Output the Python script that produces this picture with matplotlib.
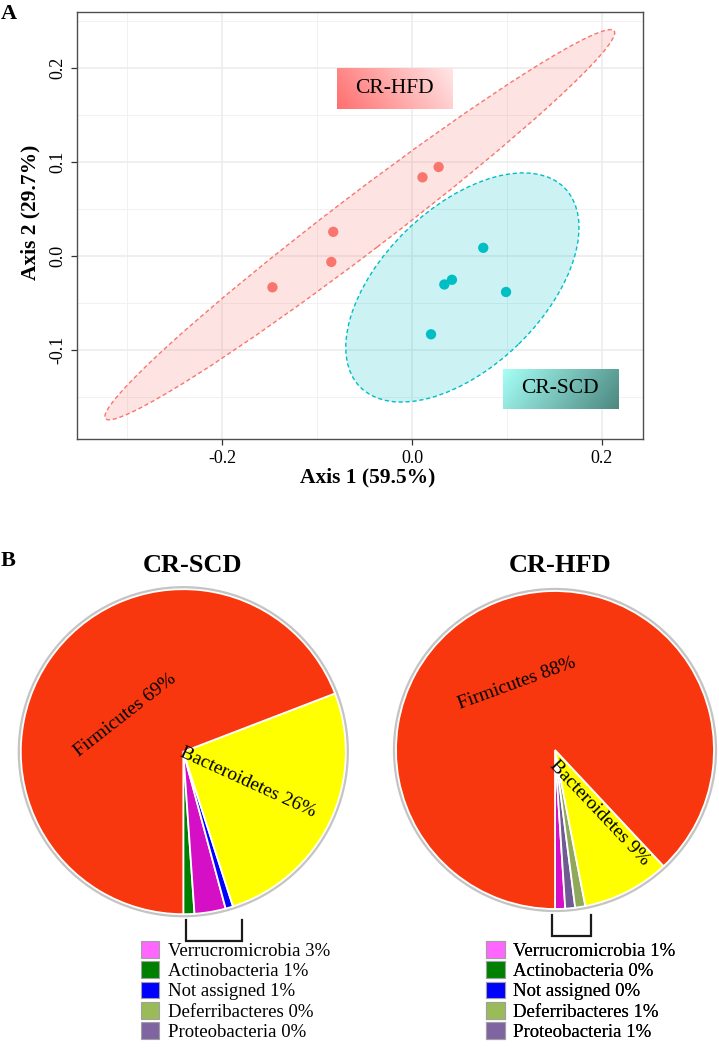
import numpy as np
import matplotlib
matplotlib.use("Agg")
import matplotlib.pyplot as plt
from matplotlib.patches import Patch, Circle, Ellipse
from matplotlib.colors import to_rgb

plt.rcParams['font.family'] = ['Liberation Serif', 'DejaVu Serif']
plt.rcParams['axes.unicode_minus'] = False

# ---------------- data: panel A (PCoA) ----------------
groups = ["CR-HFD", "CR-SCD"]
hfd_axis1 = [-0.147, -0.085, -0.083, 0.011, 0.028]
hfd_axis2 = [-0.033, -0.006, 0.026, 0.084, 0.095]
scd_axis1 = [0.075, 0.042, 0.034, 0.099, 0.020]
scd_axis2 = [0.009, -0.025, -0.030, -0.038, -0.083]
# 95% confidence ellipses: centre x, centre y, semi-major, semi-minor, angle (deg)
hfd_ellipse = [-0.055, 0.0336, 0.338, 0.030, 37.6]
scd_ellipse = [0.053, -0.0332, 0.151, 0.0845, 44.6]
axis1_var = 59.5
axis2_var = 29.7
x_ticks = [-0.2, 0.0, 0.2]
y_ticks = [-0.1, 0.0, 0.1, 0.2]

# ---------------- data: panel B (phylum composition, %) ----------------
pie_titles = ["CR-SCD", "CR-HFD"]
phyla = ["Actinobacteria", "Verrucromicrobia", "Proteobacteria",
         "Deferribacteres", "Not assigned", "Bacteroidetes", "Firmicutes"]
scd_pct = [1.1, 3.1, 0.0, 0.0, 0.75, 25.9, 69.2]
hfd_pct = [0.0, 1.03, 1.0, 1.03, 0.0, 8.9, 88.0]
legend_phyla = ["Verrucromicrobia", "Actinobacteria", "Not assigned",
                "Deferribacteres", "Proteobacteria"]
labelled_phyla = ["Firmicutes", "Bacteroidetes"]

# ---------------- styles ----------------
group_colors = {"CR-HFD": "#F8766D", "CR-SCD": "#00BFC4"}
pie_colors = {"Firmicutes": "#F9370F", "Bacteroidetes": "#FFFF00",
              "Verrucromicrobia": "#D40FC6", "Actinobacteria": "#008000",
              "Not assigned": "#0000FF", "Deferribacteres": "#8FA85A",
              "Proteobacteria": "#6F5A92"}
legend_colors = {"Verrucromicrobia": "#FF66FF", "Actinobacteria": "#008000",
                 "Not assigned": "#0000FF", "Deferribacteres": "#9BBB59",
                 "Proteobacteria": "#8064A2"}

W, H = 719, 1050
fig = plt.figure(figsize=(W / 100, H / 100), dpi=100)
fig.patch.set_facecolor("white")

# ================= Panel A =================
axA = fig.add_axes([77 / W, 1 - 439 / H, (643 - 77) / W, (439 - 12) / H])
XLIM = (-0.3528, 0.2432)
YLIM = (-0.1944, 0.2599)

axA.set_xticks(x_ticks)
axA.set_yticks(y_ticks)
axA.set_xticks([-0.3, -0.1, 0.1], minor=True)
axA.set_yticks([-0.15, -0.05, 0.05, 0.15, 0.25], minor=True)
axA.set_xticklabels([f"{t:.1f}" for t in x_ticks], fontsize=13)
axA.set_yticklabels([f"{t:.1f}" for t in y_ticks], fontsize=13,
                    rotation=90, va="center")
axA.grid(True, which="major", color="#EBEBEB", lw=1.1, zorder=0)
axA.grid(True, which="minor", color="#F1F1F1", lw=0.7, zorder=0)
axA.set_axisbelow(True)
axA.tick_params(which="major", length=4, width=0.9, color="#333333", pad=4)
axA.tick_params(which="minor", length=0)
for s in axA.spines.values():
    s.set_color("#4D4D4D")
    s.set_linewidth(1.0)

for g, e in [("CR-HFD", hfd_ellipse), ("CR-SCD", scd_ellipse)]:
    col = group_colors[g]
    cx, cy, a, b, ang = e
    axA.add_patch(Ellipse((cx, cy), 2 * a, 2 * b, angle=ang, facecolor=col,
                          alpha=0.2, edgecolor="none", zorder=2))
    axA.add_patch(Ellipse((cx, cy), 2 * a, 2 * b, angle=ang, facecolor="none",
                          edgecolor=col, lw=1.0, linestyle=(0, (3, 2)), zorder=3))
for g, xs, ys in [("CR-HFD", hfd_axis1, hfd_axis2), ("CR-SCD", scd_axis1, scd_axis2)]:
    axA.scatter(xs, ys, s=55, color=group_colors[g], edgecolors="none", zorder=4)


def gradient_box(ax, x0, x1, y0, y1, c_from, c_to, text, diag):
    u = np.linspace(0, 1, 80)
    uu, vv = np.meshgrid(u, u)
    t = 0.8 * uu + 0.2 * (vv if diag > 0 else 1 - vv)
    t = (t - t.min()) / (t.max() - t.min())
    c0 = np.array(to_rgb(c_from))
    c1 = np.array(to_rgb(c_to))
    img = c0 + (c1 - c0) * t[..., None]
    ax.imshow(img, extent=(x0, x1, y0, y1), origin="lower", aspect="auto",
              zorder=5, interpolation="bilinear")
    ax.text((x0 + x1) / 2, (y0 + y1) / 2, text, ha="center", va="center",
            fontsize=15.5, zorder=6)


gradient_box(axA, -0.0788, 0.0426, 0.1567, 0.1993, "#FF6F6F", "#FFE6E6", groups[0], 1)
gradient_box(axA, 0.0956, 0.2167, -0.1624, -0.1199, "#A6FFF6", "#4C8880", groups[1], -1)
axA.set_xlim(*XLIM)
axA.set_ylim(*YLIM)

axA.set_xlabel(f"Axis 1 ({axis1_var}%)", fontsize=15.5, fontweight="bold")
axA.xaxis.set_label_coords(0.514, -0.089)
axA.xaxis.label.set_va("center")
axA.set_ylabel(f"Axis 2 ({axis2_var}%)", fontsize=15.5, fontweight="bold")
axA.yaxis.set_label_coords(-0.083, 0.53)
axA.yaxis.label.set_va("center")

fig.text(1 / W, 1 - 4 / H, "A", fontsize=16, fontweight="bold", ha="left", va="top")

# ================= Panel B =================
BH = 540
axB = fig.add_axes([0, 0, 1, BH / H])
pie_specs = [
    (scd_pct, (183.3, H - 751.7), 162.5),
    (hfd_pct, (555.0, H - 750.0), 159.0),
]
label_pos = {
    0: {"Firmicutes": (125, 715, 38), "Bacteroidetes": (248, 782, -24.5)},
    1: {"Firmicutes": (517, 684, 20), "Bacteroidetes": (599, 813, -46.7)},
}
title_x = [192.5, 560.5]
legend_anchor = [(140.5, 941.0), (486.0, 941.0)]
bracket_dx = [(2.5, 58.5), (-2.7, 35.7)]

for i, (pct, center, r) in enumerate(pie_specs):
    keep = [k for k, v in enumerate(pct) if v > 0]
    vals = [pct[k] for k in keep]
    cols = [pie_colors[phyla[k]] for k in keep]
    axB.add_patch(Circle(center, r + 1.6, facecolor="none", edgecolor="#C4C4C4",
                         lw=2.2, zorder=0))
    axB.pie(vals, colors=cols, startangle=270, counterclock=True, center=center,
            radius=r, frame=True,
            wedgeprops=dict(edgecolor="white", linewidth=1.3))
    for name in labelled_phyla:
        px, py, rot = label_pos[i][name]
        v = pct[phyla.index(name)]
        axB.text(px, H - py, f"{name} {round(v):.0f}%", fontsize=14,
                 rotation=rot, rotation_mode="anchor", ha="center", va="center",
                 zorder=5)
    # bracket under the small slices
    cx, cy = center
    x0, x1 = cx + bracket_dx[i][0], cx + bracket_dx[i][1]
    ytop, ybot = cy - r - 5.5, cy - r - 26.5
    axB.plot([x0, x0, x1, x1], [ytop, ybot, ybot, ytop], color="#1A1A1A",
             lw=1.6, solid_joinstyle="miter", zorder=5)
    # title
    fig.text(title_x[i] / W, 1 - 565 / H, pie_titles[i], fontsize=19,
             fontweight="bold", ha="center", va="center")
    handles = [Patch(facecolor=legend_colors[p], edgecolor="#A0A0A0", linewidth=0.8,
                     label=f"{p} {round(pct[phyla.index(p)]):.0f}%")
               for p in legend_phyla]
    lx, ly = legend_anchor[i]
    leg = axB.legend(handles=handles, loc="upper left", bbox_to_anchor=(lx, H - ly),
                     bbox_transform=axB.transData, frameon=False, fontsize=13.5,
                     handlelength=1.0, handleheight=1.0, handletextpad=0.45,
                     labelspacing=0.08, borderpad=0, borderaxespad=0)
    axB.add_artist(leg)

axB.set_xlim(0, W)
axB.set_ylim(0, BH)
axB.set_axis_off()

fig.text(1 / W, 1 - 551 / H, "B", fontsize=16, fontweight="bold", ha="left", va="top")

fig.savefig("out.png", dpi=100, facecolor="white")
